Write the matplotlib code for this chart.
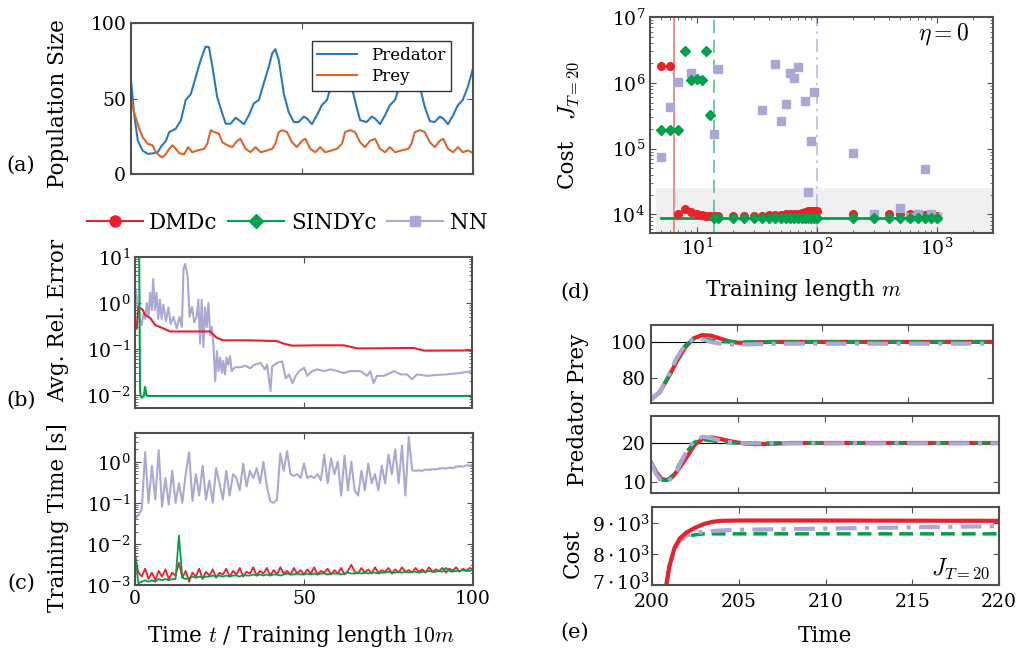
import numpy as np
import matplotlib
matplotlib.use('Agg')
import matplotlib.pyplot as plt
import matplotlib.transforms as mtransforms
from matplotlib.lines import Line2D

W, H = 1019, 652

# (a) population time series
pred_t = [0, 0.5, 1, 2, 3.4, 4.9, 6.8, 7.8, 8.7, 10.2,
          11.2, 13.1, 14.6, 16, 17.5, 18.9, 20.4, 21.8, 22.8, 23.8,
          25.2, 26.7, 27.7, 29.1, 30.6, 31.6, 33, 34.5, 35.9, 37.4,
          38.8, 40.3, 41.3, 42.2, 43.2, 44.7, 46.1, 47.6, 49, 50.5,
          51.5, 52.9, 54.4, 55.8, 57.3, 58.7, 60.2, 61.7, 62.6, 63.5,
          64.6, 66, 67, 68.9, 70.4, 71.4, 72.8, 74.3, 75.7, 77.2,
          78.6, 80.1, 81.6, 82.5, 83.4, 84.7, 85.9, 87.4, 88.8, 90.3,
          91.3, 92.7, 94.2, 95.6, 97, 98.5, 100]
pred_y = [62, 50, 38, 22, 15.5, 13.3, 13.8, 14.4, 17.8, 22,
          27.8, 30, 35.6, 49, 53, 64, 75.6, 84.4, 84, 71,
          51, 40, 33.3, 33.3, 37.3, 35.6, 33, 39, 46.7, 49,
          60, 71, 80, 82.7, 75.6, 53, 41, 34.4, 34.4, 38,
          36.7, 33, 39, 45.6, 49, 60, 71, 80, 82.7, 75.6,
          57, 44, 35.6, 34.4, 38, 36.7, 33, 39, 45.6, 49,
          59, 71, 80, 82.7, 75.6, 55.6, 44.4, 35, 34.4, 38,
          36.7, 33, 39, 45.6, 49, 57.8, 70]
prey_t = [0, 1, 2.4, 3.4, 4.9, 6.3, 7.3, 8.3, 9.2, 10.2,
          11.2, 12.1, 13.1, 14.1, 15.5, 16.7, 17.9, 19.4, 21.4, 22.3,
          23.3, 24.3, 25.7, 26.7, 28.2, 29.6, 31.1, 32, 33.5, 35,
          36.4, 37.9, 39.8, 41.3, 42.2, 43.2, 44.2, 45.6, 47.1, 48.5,
          50, 51, 52.4, 53.9, 55.3, 56.8, 58.7, 60.2, 61.7, 62.6,
          64.1, 65.5, 67, 68.4, 69.9, 71.4, 72.8, 74.3, 75.7, 77.2,
          79.1, 81.1, 82, 83, 84.5, 85.9, 87.4, 88.8, 90.3, 91.3,
          92.7, 94.2, 95.6, 97, 98.5, 100]
prey_y = [50, 40, 30, 24.4, 20, 19, 14.4, 12.2, 11, 13.3,
          16.7, 19, 16.7, 13.8, 13, 17.8, 14.4, 15.6, 16.7, 20,
          29, 27.8, 26.7, 21, 19, 17.8, 22, 23.3, 16.7, 14.4,
          17.8, 14.4, 15.6, 16.7, 20, 27.8, 29, 27.8, 21, 17.8,
          22, 23.3, 16.7, 14.4, 17.8, 14.4, 15.6, 16.7, 20, 27.8,
          29, 27.8, 21, 17.8, 22, 23.3, 16.7, 14.4, 17.8, 14.4,
          15.6, 16.7, 20, 27.8, 29, 27.8, 21, 17.8, 22, 23.3,
          16.7, 14.4, 17.8, 14.4, 15.6, 14]

# (b) average relative error
err_dmdc_t = [0.5, 1.0, 2.3, 3.0, 4.5, 6.0, 8.4, 10.4, 18.3, 22.3, 24.2, 26.2,
              34, 42.2, 44.2, 46.6, 54, 62, 65.9, 68.9, 82.7, 85.7, 88.6, 100]
err_dmdc = [0.28, 0.83, 0.71, 0.55, 0.47, 0.33, 0.28, 0.24, 0.24, 0.24, 0.176, 0.154,
            0.154, 0.148, 0.13, 0.118, 0.12, 0.12, 0.103, 0.103, 0.105, 0.092, 0.092, 0.093]
err_sindy_t = [0, 1.2, 1.5, 1.8, 2.2, 2.6, 3.0, 3.4, 4.0, 100]
err_sindy = [30, 30, 0.012, 0.009, 0.0088, 0.0095, 0.015, 0.0098, 0.0095, 0.0095]
err_nn_t = [0.3, 0.7, 1.2, 2.0, 2.5, 3.0, 3.5, 4.0, 4.5, 5.0,
            5.4, 5.9, 6.4, 6.9, 7.4, 7.9, 8.4, 9.2, 9.9, 10.6,
            11.4, 12.4, 13.2, 13.9, 14.4, 14.9, 15.6, 16.2, 16.9, 17.6,
            18.3, 18.8, 19.3, 19.8, 20.3, 20.8, 21.3, 21.8, 22.3, 22.8,
            23.3, 23.8, 24.3, 24.8, 25.3, 25.8, 26.2, 26.7, 27.2, 27.7,
            28.2, 28.7, 29.7, 31.2, 32.7, 34.2, 35.3, 37.3, 38.5, 39.2,
            40.2, 40.7, 42.2, 43.7, 44.2, 44.7, 45.7, 46.7, 47.7, 48.7,
            50.2, 51.1, 52.6, 54, 56, 58, 60, 62, 63.9, 66.9,
            68.9, 69.8, 70.8, 71.8, 73.8, 75.8, 76.8, 78.8, 80.7, 82.2,
            83.7, 86.7, 88.6, 92.6, 96.5, 100]
err_nn = [1.96, 1.0, 0.5, 0.33, 0.6, 0.45, 1.0, 0.5, 1.67, 0.7,
          3.3, 0.7, 1.67, 0.45, 1.18, 0.45, 0.92, 0.4, 0.8, 0.35,
          0.5, 0.28, 0.5, 0.3, 5.5, 7.1, 3.9, 0.5, 0.82, 0.38,
          0.5, 1.18, 0.13, 1.18, 0.11, 0.8, 0.3, 1.0, 0.2, 0.3,
          0.11, 0.02, 0.09, 0.033, 0.065, 0.03, 0.055, 0.028, 0.065, 0.045,
          0.07, 0.033, 0.04, 0.04, 0.043, 0.038, 0.045, 0.05, 0.036, 0.046,
          0.012, 0.042, 0.05, 0.054, 0.035, 0.023, 0.028, 0.018, 0.026, 0.033,
          0.039, 0.026, 0.033, 0.036, 0.033, 0.036, 0.033, 0.03, 0.033, 0.033,
          0.026, 0.033, 0.018, 0.026, 0.026, 0.03, 0.033, 0.028, 0.028, 0.022,
          0.028, 0.026, 0.027, 0.028, 0.03, 0.033]

# (c) training time, one value per step 0..100
time_nn = [0.04, 0.05, 0.07, 1.7, 0.1, 0.8, 0.12, 1.9, 0.08, 0.4,
           0.09, 0.6, 0.1, 0.3, 0.1, 0.5, 1.7, 0.11, 0.5, 0.15,
           0.8, 0.12, 0.35, 0.1, 0.7, 0.3, 0.12, 0.6, 0.15, 0.5,
           0.4, 0.2, 0.9, 0.25, 0.6, 0.4, 0.7, 0.3, 1.0, 0.25,
           0.11, 0.1, 0.12, 1.6, 0.6, 1.8, 0.5, 0.45, 0.5, 0.4,
           0.9, 0.4, 0.45, 0.4, 0.5, 0.35, 1.5, 0.3, 1.2, 0.5,
           1.0, 0.15, 1.4, 0.2, 1.0, 0.2, 0.15, 0.6, 0.2, 0.9,
           0.3, 0.5, 0.2, 0.8, 0.3, 1.5, 0.5, 2.0, 0.3, 2.5,
           0.15, 4.0, 0.62, 0.6, 0.62, 0.6, 0.65, 0.63, 0.66, 0.65,
           0.68, 0.7, 0.68, 0.72, 0.7, 0.75, 0.78, 0.76, 0.82, 0.8,
           0.85]
time_dmdc = [0.0055, 0.002, 0.0016, 0.0025, 0.0014, 0.002, 0.0013, 0.0022, 0.0016, 0.0024,
             0.0014, 0.002, 0.0017, 0.0035, 0.0015, 0.0022, 0.0012, 0.002, 0.0016, 0.0025,
             0.0014, 0.0021, 0.0017, 0.0024, 0.0015, 0.002, 0.0018, 0.0025, 0.0016, 0.0022,
             0.0018, 0.0026, 0.0016, 0.0021, 0.0019, 0.0027, 0.0017, 0.0022, 0.0019, 0.0026,
             0.0017, 0.0023, 0.0018, 0.0027, 0.0019, 0.0022, 0.0018, 0.0026, 0.0019, 0.0023,
             0.0018, 0.0024, 0.0019, 0.0027, 0.0018, 0.0022, 0.002, 0.0025, 0.0018, 0.0023,
             0.0019, 0.0026, 0.0018, 0.0022, 0.0031, 0.0021, 0.0019, 0.0026, 0.002, 0.0024,
             0.0019, 0.0027, 0.002, 0.0023, 0.0021, 0.0026, 0.0019, 0.0024, 0.002, 0.0027,
             0.0021, 0.0023, 0.002, 0.0026, 0.0021, 0.0024, 0.002, 0.0027, 0.0021, 0.0024,
             0.0022, 0.0026, 0.002, 0.0025, 0.0022, 0.0027, 0.0021, 0.0025, 0.0022, 0.0026,
             0.0024]
time_sindy = [0.0055, 0.0011, 0.0012, 0.0013, 0.0012, 0.0013, 0.0012, 0.0014, 0.0013, 0.0014,
              0.0013, 0.0014, 0.0014, 0.016, 0.0015, 0.0014, 0.0015, 0.0016, 0.0015, 0.0016,
              0.0015, 0.0016, 0.0016, 0.0017, 0.0016, 0.0017, 0.0016, 0.0017, 0.0016, 0.0017,
              0.0017, 0.0016, 0.0018, 0.0017, 0.0017, 0.0018, 0.0017, 0.0018, 0.0017, 0.0018,
              0.0017, 0.0018, 0.0018, 0.0017, 0.0018, 0.0019, 0.0018, 0.0018, 0.0019, 0.0018,
              0.0018, 0.0019, 0.0018, 0.0019, 0.0018, 0.0019, 0.0019, 0.0018, 0.0019, 0.0019,
              0.0019, 0.0018, 0.0019, 0.002, 0.0019, 0.0019, 0.002, 0.0019, 0.002, 0.0019,
              0.002, 0.002, 0.0019, 0.002, 0.002, 0.0021, 0.002, 0.002, 0.0021, 0.002,
              0.0021, 0.002, 0.0021, 0.0021, 0.002, 0.0021, 0.0021, 0.0022, 0.0021, 0.0021,
              0.0022, 0.0021, 0.0026, 0.0022, 0.0021, 0.0022, 0.0022, 0.0023, 0.0022, 0.0022,
              0.0023]
time_t = np.arange(len(time_nn))

# (d) cost vs training length
m_grid = [5, 6, 7, 8, 9, 10, 11, 12, 13, 14, 15, 20, 25, 30, 35, 40, 45, 50, 55,
          60, 65, 70, 75, 80, 85, 90, 95, 100, 200, 300, 400, 500, 600, 700, 800, 900, 1000]
J_dmdc = [1.8e6, 1.8e6, 1.0e4, 1.2e4, 1.07e4, 1.02e4, 9.8e3, 9.6e3, 9.5e3, 9.5e3,
          9.5e3, 9.6e3, 9.6e3, 9.6e3, 9.6e3, 9.7e3, 9.7e3, 9.8e3, 1.0e4, 1.0e4,
          1.0e4, 1.02e4, 1.05e4, 1.1e4, 1.12e4, 1.12e4, 1.12e4, 1.12e4,
          1.0e4, 1.0e4, 1.0e4, 1.0e4, 1.0e4, 1.0e4, 9.8e3, 9.8e3, 9.6e3]
J_sindy = [1.95e5, 1.95e5, 1.95e5, 3.0e6, 1.12e6, 1.15e6, 1.09e6, 3.0e6, 3.2e5, 8.9e3,
           8.9e3, 8.9e3, 8.9e3, 8.9e3, 8.9e3, 8.9e3, 8.9e3, 8.9e3, 8.9e3, 8.9e3,
           8.9e3, 8.9e3, 8.9e3, 8.9e3, 8.9e3, 8.9e3, 8.9e3, 8.9e3,
           8.9e3, 8.9e3, 8.9e3, 8.9e3, 8.9e3, 8.9e3, 8.9e3, 8.9e3, 8.9e3]
m_nn = [5, 6, 7, 9, 14, 15, 35, 45, 50, 55, 60, 65, 70, 80, 85, 90, 95,
        200, 300, 500, 600, 700, 800, 900, 1000]
J_nn = [7.4e4, 4.3e5, 1.02e6, 1.4e6, 1.66e5, 1.6e6, 3.9e5, 1.95e6, 2.6e5, 4.8e5,
        1.4e6, 1.2e6, 1.75e6, 5.3e5, 2.2e4, 1.3e5, 7.3e5,
        8.5e4, 1.0e4, 1.26e4, 9.2e3, 1.0e4, 4.9e4, 1.0e4, 9.2e3]
J_ref = 8.9e3
m_best = [6.5, 13.8, 100]   # DMDc, SINDYc, NN
shade_m = [4.57, 2880]
shade_J = 2.55e4

# (e) closed-loop control
ctrl_t = [200, 200.5, 201, 201.5, 202, 202.5, 203, 203.5, 204, 204.5, 205, 205.5, 206, 207, 208, 220]
pred_dmdc = [68, 72, 80, 89, 97, 102, 103.8, 103.5, 102, 100.5, 99.6, 99.4, 99.7, 100, 100, 100]
pred_sindy = [68, 72, 80.5, 90, 98, 101.5, 102, 101, 100.2, 100, 100, 100, 100, 100, 100, 100]
pred_nn = [68, 72, 81, 91, 98.5, 101.8, 101.5, 100, 99, 98.6, 98.5, 98.6, 98.7, 98.9, 99, 99]
prey_ct = [200, 200.3, 200.6, 200.9, 201.2, 201.5, 202, 202.5, 203, 203.5, 204, 204.5, 205, 205.5, 206, 207, 208, 220]
prey_dmdc = [15, 12.5, 10.8, 10.5, 11.2, 12.8, 16, 19.5, 21.2, 21.4, 21, 20.5, 20.1, 19.8, 19.7, 19.8, 20, 20]
prey_sindy = [15, 12.3, 10.5, 10.4, 11.5, 13.5, 17.5, 20.2, 20.8, 20.6, 20.2, 20.05, 20, 20, 20, 20, 20, 20]
prey_nn = [15, 12, 10.2, 10, 11, 13, 17.5, 20.8, 21.6, 21.2, 20.6, 20.2, 20, 19.9, 19.9, 19.9, 19.9, 19.9]
cost_t = [200.8, 201.0, 201.3, 201.6, 202, 202.5, 203, 203.5, 204, 205, 210, 215, 220]
cost_dmdc = [6900, 7600, 8200, 8500, 8700, 8850, 8970, 9040, 9070, 9080, 9080, 9075, 9070]
cost_sindy = [6900, 7600, 8150, 8430, 8570, 8620, 8650, 8650, 8650, 8650, 8650, 8650, 8650]
cost_nn = [6900, 7600, 8150, 8450, 8600, 8680, 8720, 8740, 8760, 8780, 8820, 8860, 8900]

c_pred, c_prey = '#2a7ab9', '#d9672b'
c_dmdc, c_sindy, c_nn = '#e8212b', '#00a14b', '#aaa8d4'

plt.rcParams['font.family'] = ['DejaVu Serif']
plt.rcParams['mathtext.fontset'] = 'cm'
plt.rcParams['font.size'] = 13.5

fig = plt.figure(figsize=(W / 100, H / 100), dpi=100)


def px_axes(l, t, r, b):
    return fig.add_axes([l / W, 1 - b / H, (r - l) / W, (b - t) / H])


def style(ax):
    for s in ax.spines.values():
        s.set_color('#505050')
        s.set_linewidth(1.5)
    ax.tick_params(which='both', direction='in', top=True, right=True,
                   labelsize=13.5, color='#505050')
    ax.tick_params(which='major', length=4, width=0.8)
    ax.tick_params(which='minor', length=2.5, width=0.6)


def ftext(x, y, s, **kw):
    fig.text(x / W, 1 - y / H, s, ha='center', va='center', **kw)


# (a)
ax = px_axes(131, 23, 473, 174)
ax.plot(pred_t, pred_y, color=c_pred, lw=1.5, label='Predator')
ax.plot(prey_t, prey_y, color=c_prey, lw=1.5, label='Prey')
ax.set_xlim(0, 100)
ax.set_ylim(0, 100)
ax.set_xticks([0, 50, 100])
ax.set_yticks([0, 50, 100])
ax.tick_params(labelbottom=False)
style(ax)
leg = ax.legend(loc='upper right', bbox_to_anchor=(0.96, 0.934), fontsize=12,
                fancybox=False, edgecolor='#333333', framealpha=1,
                handlelength=2.4, borderpad=0.35, labelspacing=0.25)
leg.get_frame().set_linewidth(1.0)

# (b)
ax = px_axes(135, 257, 472, 408)
ax.plot(err_nn_t, err_nn, color=c_nn, lw=1.5)
ax.plot(err_dmdc_t, err_dmdc, color=c_dmdc, lw=1.5)
ax.plot(err_sindy_t, err_sindy, color=c_sindy, lw=1.5)
ax.set_yscale('log')
ax.set_xlim(0, 100)
ax.set_ylim(0.0052, 10)
ax.set_xticks([0, 50, 100])
ax.set_yticks([0.01, 0.1, 1, 10])
ax.tick_params(labelbottom=False)
style(ax)

# (c)
ax = px_axes(135, 433, 473, 585)
ax.plot(time_t, time_nn, color=c_nn, lw=1.5)
ax.plot(time_t, time_dmdc, color=c_dmdc, lw=1.3)
ax.plot(time_t, time_sindy, color=c_sindy, lw=1.3)
ax.set_yscale('log')
ax.set_xlim(0, 100)
ax.set_ylim(1e-3, 5)
ax.set_xticks([0, 50, 100])
ax.set_yticks([1e-3, 1e-2, 1e-1, 1])
style(ax)

ftext(58, 104, 'Population Size', rotation=90, fontsize=15.5)
ftext(58, 320, 'Avg. Rel. Error', rotation=90, fontsize=15.5)
ftext(58, 518, 'Training Time [s]', rotation=90, fontsize=15.5)
ftext(21, 165, '(a)', fontsize=15)
ftext(21, 400, '(b)', fontsize=15)
ftext(21, 583, '(c)', fontsize=15)
ftext(301, 636, r'Time $t$ / Training length $10m$', fontsize=15.5)

handles = [Line2D([], [], color=c_dmdc, marker='o', ms=8, lw=1.5),
           Line2D([], [], color=c_sindy, marker='D', ms=7, lw=1.5),
           Line2D([], [], color=c_nn, marker='s', ms=7, lw=1.5)]
fig.legend(handles, ['DMDc', 'SINDYc', 'NN'], loc='center',
           bbox_to_anchor=(287 / W, 1 - 223 / H), ncol=3, frameon=False,
           fontsize=15.5, handlelength=2.6, handletextpad=0.3, columnspacing=0.5)

# (d)
ax = px_axes(650, 17, 993, 233)
ax.fill_between(shade_m, 1, shade_J, color='#f0f0f0', zorder=0, lw=0)
ax.axvline(m_best[0], color='#f07a7a', lw=1.2, zorder=1)
ax.axvline(m_best[1], color='#62c08c', lw=1.2, ls=(0, (8, 4)), zorder=1)
ax.axvline(m_best[2], color='#bdbbe0', lw=1.2, ls=(0, (8, 3, 1.5, 3)), zorder=1)
ax.plot([m_grid[0], m_grid[-1]], [J_ref, J_ref], color=c_sindy, lw=2, zorder=2)
ax.plot(m_grid, J_dmdc, 'o', color=c_dmdc, ms=5.5, zorder=3)
ax.plot(m_nn, J_nn, 's', color=c_nn, ms=5.5, zorder=4)
ax.plot(m_grid, J_sindy, 'D', color=c_sindy, ms=5, zorder=5)
ax.set_xscale('log')
ax.set_yscale('log')
ax.set_xlim(4.07, 2960)
ax.set_ylim(5220, 1e7)
ax.set_xticks([10, 100, 1000])
ax.set_yticks([1e4, 1e5, 1e6, 1e7])
style(ax)
ax.text(0.93, 0.92, r'$\eta=0$', transform=ax.transAxes, ha='right', va='center', fontsize=17)
ftext(567, 163, 'Cost', rotation=90, fontsize=15.5)
ftext(569, 90, r'$J_{T=20}$', rotation=90, fontsize=17)
ftext(575, 292, '(d)', fontsize=15)
ftext(803, 290, r'Training length $m$', fontsize=15.5)

# (e)
ax1 = px_axes(651, 325, 993, 403)
ax1.axhline(100, color='k', lw=0.8)
ax1.plot(ctrl_t, pred_dmdc, color=c_dmdc, lw=3)
ax1.plot(ctrl_t, pred_sindy, color=c_sindy, lw=2.5, ls=(0, (4, 2)))
ax1.plot(ctrl_t, pred_nn, color=c_nn, lw=3, ls=(0, (5, 2, 1, 2)))
ax1.set_xlim(200, 220)
ax1.set_ylim(66, 109.4)
ax1.set_xticks([205, 210, 215])
ax1.set_yticks([80, 100])
ax1.tick_params(labelbottom=False)
style(ax1)

ax2 = px_axes(651, 416, 999, 493)
ax2.axhline(20, color='k', lw=0.8)
ax2.plot(prey_ct, prey_dmdc, color=c_dmdc, lw=3)
ax2.plot(prey_ct, prey_sindy, color=c_sindy, lw=2.5, ls=(0, (4, 2)))
ax2.plot(prey_ct, prey_nn, color=c_nn, lw=3, ls=(0, (5, 2, 1, 2)))
ax2.set_xlim(200, 220)
ax2.set_ylim(7.2, 26.9)
ax2.set_xticks([205, 210, 215])
ax2.set_yticks([10, 20])
ax2.tick_params(labelbottom=False)
style(ax2)

ax3 = px_axes(652, 507, 999, 585)
ax3.plot(cost_t, cost_sindy, color=c_sindy, lw=2.5, ls=(0, (4, 2)))
ax3.plot(cost_t, cost_nn, color=c_nn, lw=3, ls=(0, (5, 2, 1, 2)))
ax3.plot(cost_t, cost_dmdc, color=c_dmdc, lw=3)
ax3.set_xlim(200, 220)
ax3.set_ylim(7000, 9516)
ax3.set_xticks([200, 205, 210, 215, 220])
ax3.set_yticks([7000, 8000, 9000])
ax3.set_yticklabels([r'$\mathdefault{7\cdot10^{3}}$', r'$\mathdefault{8\cdot10^{3}}$',
                     r'$\mathdefault{9\cdot10^{3}}$'])
style(ax3)
ax3.tick_params(axis='y', labelsize=13.5, pad=1)
ax3.tick_params(axis='x', pad=6)
# nudge the lowest cost label up a little so it clears the 200 tick label
lbl = ax3.get_yticklabels()[0]
lbl.set_transform(lbl.get_transform() + mtransforms.ScaledTranslation(0, 3 / 72, fig.dpi_scale_trans))
ax3.text(0.975, 0.05, r'$J_{T=20}$', transform=ax3.transAxes, ha='right', va='bottom', fontsize=17)

ftext(578, 410, 'Predator Prey', rotation=90, fontsize=15.5)
ftext(573, 553, 'Cost', rotation=90, fontsize=15.5)
ftext(575, 632, '(e)', fontsize=15)
ftext(825, 636, 'Time', fontsize=15.5)

fig.savefig('out.png', dpi=100)
